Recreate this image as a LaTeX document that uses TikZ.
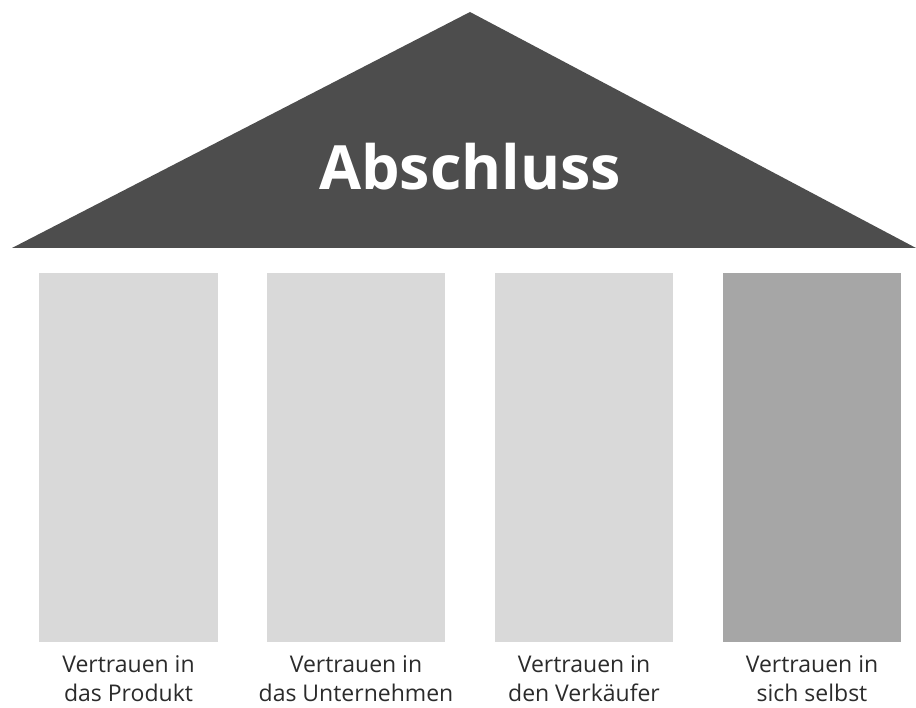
\documentclass[tikz,border=0pt]{standalone}
\usepackage{fontspec}
\setmainfont{Open Sans}
\definecolor{roofc}{HTML}{4D4D4D}
\definecolor{pillarc}{HTML}{D9D9D9}
\definecolor{pillard}{HTML}{A6A6A6}
\definecolor{textc}{HTML}{2B2B2B}
\begin{document}
\begin{tikzpicture}[x=1pt,y=-1pt,
  pillar/.style={fill=pillarc,draw=none},
  label/.style={text=textc,font=\fontsize{23}{29}\selectfont,align=center,inner sep=0pt}]
\useasboundingbox (0,0) rectangle (916,708);
\fill[roofc] (12,248) -- (470,12) -- (916,248) -- cycle;
\node[text=white,font=\bfseries\fontsize{61}{61}\selectfont,inner sep=0pt] (title) at (470,167) {Abschluss};
\path[pillar] (39,273) rectangle (218,642);
\path[pillar] (267,273) rectangle (445,642);
\path[pillar] (495,273) rectangle (673,642);
\path[fill=pillard] (723,273) rectangle (901,642);
\node[label] (l1) at (128.5,679) {Vertrauen in\\das Produkt};
\node[label] (l2) at (356,679) {Vertrauen in\\das Unternehmen};
\node[label] (l3) at (584,679) {Vertrauen in\\den Verkäufer};
\node[label] (l4) at (812,679) {Vertrauen in\\sich selbst};
\end{tikzpicture}
\end{document}
